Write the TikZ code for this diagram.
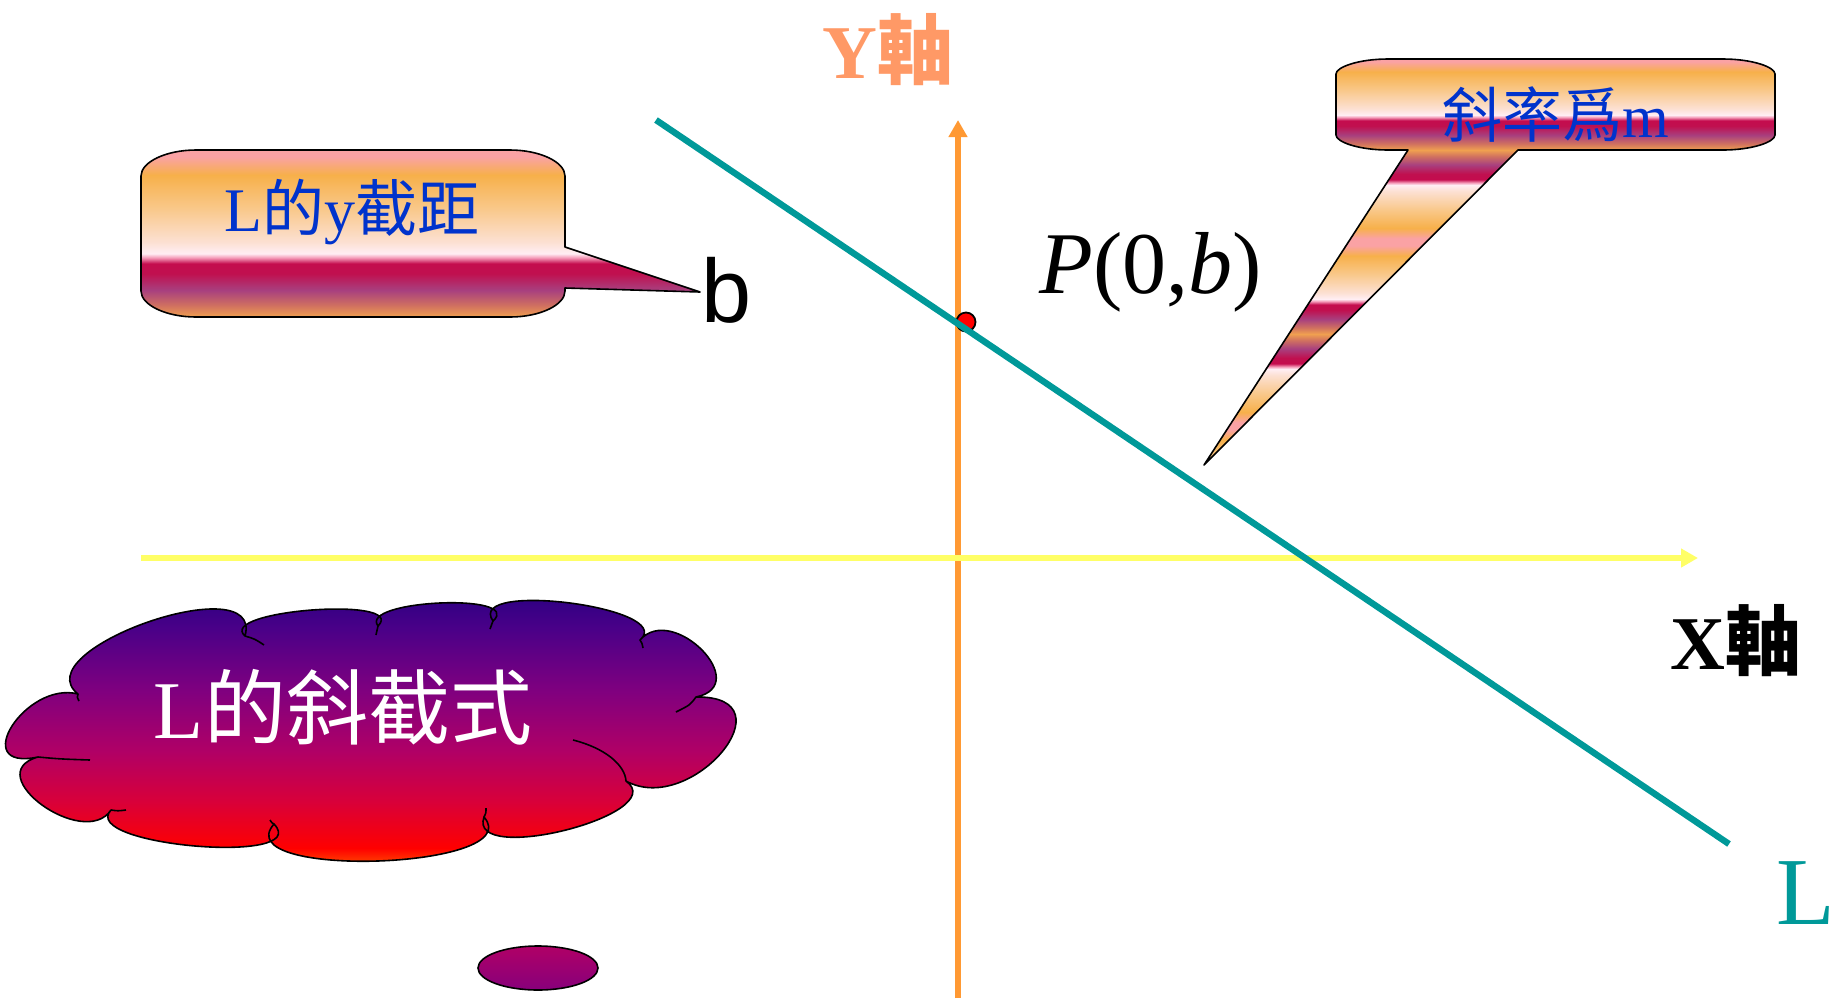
\documentclass[tikz,border=0pt]{standalone}
\usepackage{fontspec}
\setmainfont{Liberation Serif}
\newfontfamily\cjk{Noto Sans CJK TC}
\newfontfamily\lsans{Liberation Sans}
\usetikzlibrary{arrows.meta,shapes.geometric,calc}
\definecolor{gor}{HTML}{F0A050}
\definecolor{gbr}{HTML}{D07060}
\definecolor{gpu}{HTML}{A8407F}
\definecolor{gcr}{HTML}{C0104F}
\definecolor{gcrb}{HTML}{C40C4E}
\definecolor{gpk}{HTML}{F49AB8}
\definecolor{gwh}{HTML}{FFEEF4}
\definecolor{gpa}{HTML}{FCE0D2}
\definecolor{glo}{HTML}{F9C88A}
\definecolor{gorb}{HTML}{F7B04A}
\definecolor{gpi}{HTML}{FAA2A4}
\definecolor{ca}{HTML}{14007F}
\definecolor{cb}{HTML}{4A0088}
\definecolor{cc}{HTML}{80007F}
\definecolor{cd}{HTML}{B00066}
\definecolor{ce}{HTML}{D8003A}
\definecolor{cf}{HTML}{FF0000}
\definecolor{cg}{HTML}{FF6000}
\definecolor{ch}{HTML}{FF9000}
\definecolor{yaxis}{HTML}{FF9933}
\definecolor{xaxis}{HTML}{FFFF66}
\definecolor{teal}{HTML}{009999}
\definecolor{ylab}{HTML}{FF9966}
\definecolor{txtblue}{HTML}{0033CC}
\pgfdeclareverticalshading{bandG}{100bp}{color(0bp)=(gor); color(25bp)=(gor); color(28.5bp)=(gbr); color(33bp)=(gpu); color(38bp)=(gcr); color(41bp)=(gcrb); color(42.75bp)=(gpk); color(44bp)=(gwh); color(47.5bp)=(gpa); color(57.5bp)=(glo); color(67.5bp)=(gorb); color(73bp)=(gpi); color(75bp)=(gpi); color(100bp)=(gpi)}
\pgfdeclareverticalshading{cloudG}{100bp}{color(0bp)=(ch); color(25bp)=(ch); color(26.5bp)=(cg); color(30bp)=(cf); color(37.5bp)=(ce); color(45.5bp)=(cd); color(55bp)=(cc); color(65bp)=(cb); color(75bp)=(ca); color(100bp)=(ca)}
\tikzset{
  outline/.style={draw=black, line width=0.8pt, line join=round},
  axisline/.style={line width=3pt, -{Triangle[length=8.5pt,width=9pt]}},
  lbl/.style={inner sep=0pt, outer sep=0pt},
  tail/.style={line width=0.8pt},
}
% lobe from A to B with apex C
\newcommand\lobeto[3]{.. controls ($0.558*(#1)+1.333*(#3)-0.891*(#2)$) and ($0.558*(#2)+1.333*(#3)-0.891*(#1)$) .. (#2)}
\begin{document}
\begin{tikzpicture}[x=0.5pt,y=-0.5pt]
\fill[white] (0,0) rectangle (1838,998);
\useasboundingbox (0,0) rectangle (1838,998);

% axes and line
\coordinate (yb) at (958,998);
\coordinate (yt) at (958,120);
\coordinate (xl) at (141,558);
\coordinate (xr) at (1698,558);
\coordinate (la) at (656,120);
\coordinate (lb) at (1729,844);
\draw[axisline, yaxis] (yb) -- (yt);
\draw[axisline, xaxis] (xl) -- (xr);
\node[circle, fill=red, draw=black, line width=0.9pt, minimum size=9.5pt, inner sep=0pt] (P) at (966,322) {};
\draw[teal, line width=3.2pt] (la) -- (lb);

% left callout
\path[outline, shade, shading=bandG]
  (196,150) -- (510,150) .. controls (540,150) and (565,162) .. (565,176)
  -- (565,247) -- (700,292) -- (565,288)
  -- (565,291) .. controls (565,305) and (540,317) .. (510,317)
  -- (196,317) .. controls (166,317) and (141,305) .. (141,291)
  -- (141,176) .. controls (141,162) and (166,150) .. (196,150) -- cycle;
\node[lbl, text=txtblue, font=\fontsize{31}{33}\selectfont] (t1) at (352,212) {L{\cjk 的}y{\cjk 截距}};
\node[lbl, font=\lsans\fontsize{45}{47}\selectfont] (b) at (727,290) {b};

% right callout
\begin{scope}
\clip (1388,59) -- (1723,59) .. controls (1752,59) and (1775,67) .. (1775,74)
  -- (1775,135) .. controls (1775,142) and (1752,150) .. (1723,150)
  -- (1518,150) -- (1204,465) -- (1408,150)
  -- (1388,150) .. controls (1359,150) and (1336,142) .. (1336,135)
  -- (1336,74) .. controls (1336,67) and (1359,59) .. (1388,59) -- cycle;
\shade[shading=bandG] (1190,58) rectangle (1790,150);
\shade[shading=bandG, shading angle=180] (1190,150) rectangle (1790,242);
\shade[shading=bandG] (1190,242) rectangle (1790,334);
\shade[shading=bandG, shading angle=180] (1190,334) rectangle (1790,426);
\shade[shading=bandG] (1190,426) rectangle (1790,518);
\end{scope}
\draw[outline] (1388,59) -- (1723,59) .. controls (1752,59) and (1775,67) .. (1775,74)
  -- (1775,135) .. controls (1775,142) and (1752,150) .. (1723,150)
  -- (1518,150) -- (1204,465) -- (1408,150)
  -- (1388,150) .. controls (1359,150) and (1336,142) .. (1336,135)
  -- (1336,74) .. controls (1336,67) and (1359,59) .. (1388,59) -- cycle;
\node[lbl, text=txtblue, font=\fontsize{30}{32}\selectfont] (t2) at (1556,115) {{\cjk 斜率爲}m};

% labels
\node[lbl, text=ylab, font=\fontsize{38}{40}\selectfont\bfseries] (ylabel) at (888,50) {Y{\cjk 軸}};
\node[lbl, text=black, font=\fontsize{38}{40}\selectfont\bfseries] (xlabel) at (1736,641) {X{\cjk 軸}};
\node[lbl, anchor=base, font=\fontsize{44}{46}\selectfont] (plabel) at (1151,293) {\textit{P}(0,\textit{b})};
\node[lbl, anchor=east, text=teal, font=\fontsize{48}{50}\selectfont] (Llabel) at (1835,893) {L};

% cloud
\coordinate (c1) at (78,694);
\coordinate (c2) at (245,636);
\coordinate (c3) at (378,626);
\coordinate (c4) at (493,621);
\coordinate (c5) at (640,640);
\coordinate (c6) at (696,697);
\coordinate (c7) at (626,781);
\coordinate (c8) at (484,817);
\coordinate (c9) at (274,824);
\coordinate (c10) at (111,810);
\coordinate (c11) at (38,757);
\coordinate (a1) at (148,622);
\coordinate (a2) at (312,610);
\coordinate (a3) at (440,603);
\coordinate (a4) at (570,603);
\coordinate (a5) at (702,650);
\coordinate (a6) at (722,752);
\coordinate (a7) at (566,830);
\coordinate (a8) at (378,861);
\coordinate (a9) at (195,846);
\coordinate (a10) at (42,805);
\coordinate (a11) at (12,726);
\path[outline, shade, shading=cloudG] (c1) \lobeto{c1}{c2}{a1} \lobeto{c2}{c3}{a2} \lobeto{c3}{c4}{a3}
  \lobeto{c4}{c5}{a4} \lobeto{c5}{c6}{a5} \lobeto{c6}{c7}{a6} \lobeto{c7}{c8}{a7}
  \lobeto{c8}{c9}{a8} \lobeto{c9}{c10}{a9} \lobeto{c10}{c11}{a10} \lobeto{c11}{c1}{a11} -- cycle;
\draw[tail] (c1) .. controls (77,697) .. (79,701);
\draw[tail] (c2) .. controls (255,639) .. (264,645);
\draw[tail] (c3) .. controls (377,630) .. (376,635);
\draw[tail] (c4) .. controls (492,625) .. (490,629);
\draw[tail] (c5) .. controls (642,643) .. (643,648);
\draw[tail] (c6) .. controls (690,705) .. (676,712);
\draw[tail] (573,740) .. controls (605,748) and (625,765) .. (c7);
\draw[tail] (c8) .. controls (486,813) .. (486,808);
\draw[tail] (c9) .. controls (272,823) .. (270,820);
\draw[tail] (c10) .. controls (118,811) .. (126,810);
\draw[tail] (c11) .. controls (60,759) .. (90,760);
\node[lbl, text=white, font=\fontsize{41}{43}\selectfont] (t3) at (343,707) {L{\cjk 的斜截式}};
\node[ellipse, outline, top color=cd, bottom color=cc!85!cd, minimum width=60pt, minimum height=22pt, inner sep=0pt] (dot) at (538,968) {};
\end{tikzpicture}
\end{document}
